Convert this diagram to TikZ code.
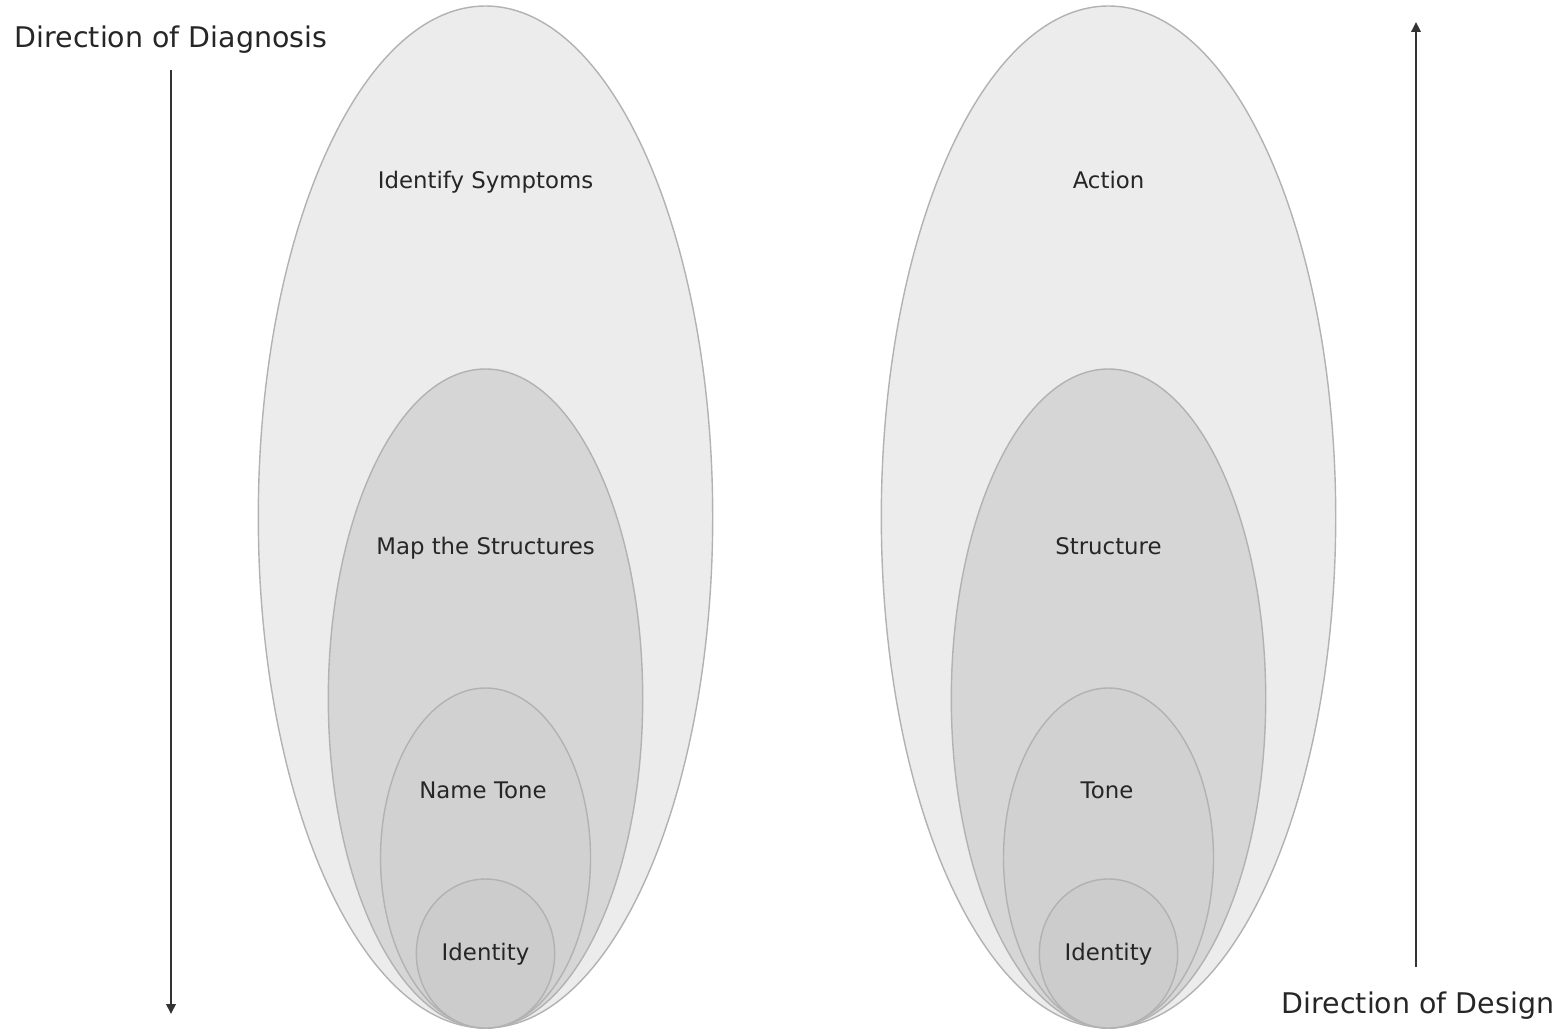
\documentclass[tikz,border=0pt]{standalone}
\usepackage{fontspec}
\setmainfont{DejaVu Sans}
\usepackage{tikz}
\usetikzlibrary{arrows.meta, positioning, calc}
\definecolor{textcolor}{RGB}{38, 38, 38}
\definecolor{ringframe}{RGB}{178, 178, 178}
\definecolor{ringa}{RGB}{236, 236, 236}
\definecolor{ringb}{RGB}{214, 214, 214}
\definecolor{ringc}{RGB}{209, 209, 209}
\definecolor{ringd}{RGB}{204, 204, 204}
\definecolor{arrowcolor}{RGB}{51, 51, 51}

\begin{document}
\begin{tikzpicture}[
    x=0.02cm, y=0.02cm,
    ring/.style={draw=ringframe, line width=0.8pt},
    label/.style={text=textcolor, font=\fontsize{13}{15}\selectfont, inner sep=0pt},
    dirlabel/.style={text=textcolor, font=\fontsize{16.2}{19}\selectfont, inner sep=0pt},
    arrow/.style={-{Triangle[width=0.19cm, length=0.2cm]}, line width=1.1pt, arrowcolor}
    ]
    \useasboundingbox (0,0) rectangle (1564,1032);

    % Nested ellipses
    \foreach \cx in {485.5, 1108.5} {
        \filldraw[ring, fill=ringa] (\cx,515) ellipse [x radius=227.2, y radius=511];
        \filldraw[ring, fill=ringb] (\cx,333.5) ellipse [x radius=157.2, y radius=329.5];
        \filldraw[ring, fill=ringc] (\cx,174) ellipse [x radius=105, y radius=170];
        \filldraw[ring, fill=ringd] (\cx,78.5) ellipse [x radius=69.2, y radius=74.5];
      }

    % Diagnosis side
    \node[label] (symptoms) at (485.5,850) {Identify Symptoms};
    \node[label] (structures) at (485.5,484) {Map the Structures};
    \node[label] (nametone) at (483,242) {Name Tone};
    \node[label] (identityl) at (485.5,78) {Identity};

    % Design side
    \node[label] (action) at (1108.5,852) {Action};
    \node[label] (structure) at (1108.5,486) {Structure};
    \node[label] (tone) at (1107,242) {Tone};
    \node[label] (identityr) at (1108.5,78) {Identity};

    % Directions
    \node[dirlabel] (diagnosis) at (171,992) {Direction of Diagnosis};
    \coordinate (diagstart) at (171,962);
    \coordinate (diagend) at (171,18);

    \node[dirlabel] (design) at (1418,26) {Direction of Design};
    \coordinate (designstart) at (1416,65);
    \coordinate (designend) at (1416,1010);

    \draw[arrow] (diagstart) -- (diagend);
    \draw[arrow] (designstart) -- (designend);
  \end{tikzpicture}
\end{document}
